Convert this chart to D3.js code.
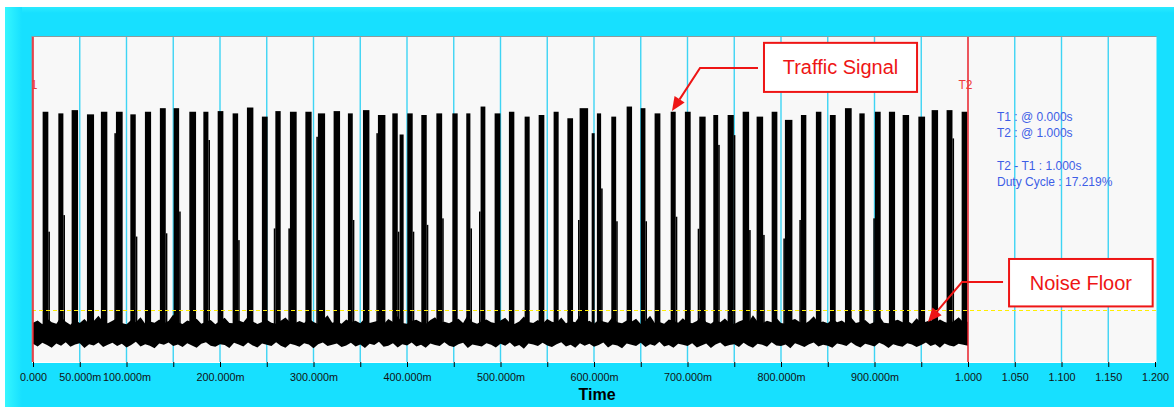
<!DOCTYPE html>
<html><head><meta charset="utf-8">
<script src="https://cdn.jsdelivr.net/npm/d3@7/dist/d3.min.js"></script>
<style>html,body{margin:0;padding:0;background:#fff;}svg{display:block;font-family:"Liberation Sans",Arial,sans-serif;}</style>
</head><body><svg id="c" width="1174" height="407"></svg>
<script>
// ---------- data ----------
const burstStart = [0.0107,0.0275,0.0417,0.0581,0.0730,0.0891,0.1045,0.1201,0.1361,0.1508,0.1676,0.1826,0.1979,0.2139,0.2292,0.2452,0.2596,0.2752,0.2917,0.3051,0.3219,
0.3372,0.3533,0.3693,0.3847,0.3925,0.4007,0.4157,0.4318,0.4489,0.4638,0.4791,0.4941,0.5094,0.5262,0.5412,0.5572,0.5719,0.5850,0.5979,0.6035,0.6189,0.6353,0.6503,0.6652,
0.6824,0.6976,0.7130,0.7280,0.7433,0.7594,0.7743,0.7904,0.8046,0.8217,0.8377,0.8527,0.8688,0.8842,0.9008,0.9158,0.9305,0.9473,0.9615,0.9775,0.9936];
const burstEnd = [0.0160,0.0321,0.0478,0.0649,0.0791,0.0955,0.1095,0.1259,0.1416,0.1559,0.1740,0.1872,0.2032,0.2190,0.2353,0.2506,0.2645,0.2816,0.2976,0.3120,0.3280,
0.3416,0.3594,0.3765,0.3897,0.3960,0.4057,0.4207,0.4372,0.4538,0.4674,0.4834,0.4995,0.5144,0.5308,0.5465,0.5618,0.5772,0.5933,0.6003,0.6072,0.6233,0.6403,0.6546,0.6706,
0.6870,0.7030,0.7190,0.7324,0.7491,0.7655,0.7805,0.7957,0.8118,0.8267,0.8428,0.8581,0.8752,0.8891,0.9062,0.9216,0.9366,0.9537,0.9676,0.9830,0.9989];
const burstPeak = [77.0,76.5,77.5,76.2,77.0,77.0,76.2,77.0,78.1,78.1,77.0,77.0,77.2,76.5,78.3,75.5,77.2,77.0,77.0,76.5,77.2,
76.5,77.5,76.0,76.5,70.0,76.5,76.0,76.5,76.5,76.5,78.6,76.5,77.0,75.5,76.0,77.0,75.0,78.1,70.4,76.5,75.5,78.6,78.1,76.5,
77.0,77.0,75.5,76.0,76.0,77.0,75.5,77.0,74.5,76.0,77.0,76.0,78.1,76.5,77.0,77.0,76.0,75.5,77.5,77.5,77.0];
const shoulderLevel = [40.1,45.2,0,0,0,70.4,38.6,0,39.6,46.3,0,68.3,0,37.5,0,0,41.1,41.1,0,69.3,0,
43.7,0,70.4,40.1,0,40.1,42.2,44.2,0,41.1,46.3,0,0,0,0,0,0,43.7,0,53.4,43.3,0,43.3,0,
44.7,0,41.0,66.8,69.8,40.6,39.1,0,38.0,43.7,0,0,0,0,44.2,0,0,0,0,68.8,0];
const shoulderSide = ["R","R","","","","L","R","","R","R","","R","","R","","","L","L","","L","",
"R","","L","R","","R","R","R","","R","L","","","","","","","L","","R","R","","R","",
"R","","L","R","R","R","R","","L","L","","","","","L","","","","","R",""];
const noiseStep = 0.005;
const noiseTop = [12.1,12.8,11.6,13.4,12.2,11.8,13.9,12.4,11.5,12.9,12.0,13.2,11.7,12.6,14.2,12.3,11.9,12.7,13.5,12.0,
11.6,12.9,12.2,13.8,11.8,12.5,12.1,13.1,11.9,12.6,14.6,12.2,11.7,12.8,12.3,13.3,11.8,12.4,12.9,11.6,
12.7,13.6,12.0,11.9,12.8,12.2,14.0,12.5,11.7,12.3,13.0,12.1,11.8,12.7,13.7,12.2,11.9,12.6,12.0,13.4,
12.3,11.7,12.9,14.4,12.1,12.5,11.8,13.1,12.2,12.7,11.9,13.5,12.0,12.4,12.8,11.6,13.2,12.3,14.1,12.0,
11.8,12.6,13.0,12.2,11.7,12.9,13.8,12.1,12.4,11.9,12.7,13.3,12.0,14.5,12.3,11.8,12.6,13.1,12.2,11.9,
12.8,13.6,12.1,11.7,12.5,14.0,12.3,12.0,12.9,11.8,13.2,12.4,12.1,13.7,11.9,12.6,12.2,14.3,12.0,12.7,
11.8,13.0,12.5,12.1,13.9,12.2,11.9,12.8,12.4,13.3,11.7,12.6,14.2,12.0,12.3,11.8,13.1,12.7,12.1,13.5,
12.2,11.9,12.6,14.0,12.3,11.8,12.9,12.2,13.4,12.0,11.7,12.5,13.0,12.1,14.4,12.4,11.9,12.7,12.2,13.6,
12.0,11.8,12.8,13.2,12.3,11.7,12.6,14.1,12.1,12.5,11.9,13.3,12.2,12.8,11.8,13.7,12.0,12.4,12.9,11.7,
12.3,14.2,12.1,11.9,12.6,13.0,12.2,12.7,11.8,13.5,12.0,12.4,12.9,12.1,13.1,12.3,11.9,12.6,13.8,12.2,12.4];
const noiseBottom = [5.6,4.8,5.9,5.2,4.4,5.7,5.0,6.1,4.7,5.4,5.8,4.3,5.5,5.1,6.0,4.6,5.3,5.9,4.9,5.6,
4.5,5.2,6.2,4.8,5.5,5.0,4.2,5.7,5.3,6.0,4.9,5.4,4.6,5.8,5.1,4.4,5.6,6.1,5.0,4.7,
5.5,5.2,4.3,5.9,5.4,4.8,6.0,5.1,4.5,5.7,5.3,4.9,6.1,5.0,4.4,5.6,5.2,4.7,5.8,5.4,
4.2,5.5,6.0,4.9,5.3,5.7,4.6,5.1,5.9,4.8,5.4,4.3,5.6,5.2,6.2,4.7,5.0,5.8,4.5,5.5,
5.1,6.0,4.8,5.3,4.4,5.7,5.2,4.9,6.1,5.0,4.6,5.5,5.9,4.3,5.4,5.1,4.8,5.8,5.3,4.5,
5.6,5.0,6.0,4.7,5.2,4.1,5.7,5.4,4.9,5.9,5.1,4.6,5.5,6.1,4.8,5.3,4.4,5.8,5.0,5.6,
4.7,5.2,6.0,4.5,5.4,5.1,4.2,5.7,5.3,4.9,5.9,4.6,5.5,5.0,6.2,4.8,5.2,4.4,5.6,5.3,
4.9,5.8,4.5,5.1,5.7,4.3,5.4,6.0,4.8,5.2,5.5,4.6,5.9,5.0,4.4,5.6,5.3,4.7,6.1,5.1,
4.9,5.4,4.2,5.8,5.2,4.6,5.5,6.0,4.8,5.3,5.0,4.4,5.7,5.4,4.9,6.1,5.1,4.5,5.6,5.2,
4.8,5.9,5.3,4.3,5.5,5.0,4.7,5.8,5.4,4.6,5.2,6.0,4.9,5.5,4.4,5.7,5.1,4.8,5.6,5.3,5.0];
const noiseCenter = 9;
const thresholdLevel = 16;
const gridTimes = [0.05,0.1,0.15,0.2,0.25,0.3,0.35,0.4,0.45,0.5,0.55,0.6,0.65,0.7,0.75,0.8,0.85,0.9,0.95,1.05,1.1,1.15];
const tickValues = [0,0.05,0.1,0.15,0.2,0.25,0.3,0.35,0.4,0.45,0.5,0.55,0.6,0.65,0.7,0.75,0.8,0.85,0.9,0.95,1.0,1.05,1.1,1.15,1.2];
const tickLabels = ["0.000","50.000m","100.000m","","200.000m","","300.000m","","400.000m","","500.000m","","600.000m","","700.000m","","800.000m","","900.000m","","1.000","1.050","1.100","1.150","1.200"];
const cursorTimes = [0, 1];
const cursorNames = ["T1", "T2"];
const infoLines = ["T1 : @ 0.000s", "T2 : @ 1.000s", "", "T2 - T1 : 1.000s", "Duty Cycle : 17.219%"];
const annotations = [
  {text:"Traffic Signal", tip:[0.6834,77.2], elbow:[0.7134,90.5], box:[0.7818,98.2,0.9455,83.1]},
  {text:"Noise Floor", tip:[0.9572,12.3], elbow:[0.9936,24.6], box:[1.0439,31.7,1.1975,17.1]}
];

// ---------- drawing ----------
const svg = d3.select("#c");
const x = d3.scaleLinear().domain([0, 1.2]).range([33, 1155]);
const y = d3.scaleLinear().domain([0, 100]).range([362, 37]);
const plotL = 32, plotR = 1156.5, plotT = 37, plotB = 362;

const defs = svg.append("defs");
const lg = defs.append("linearGradient").attr("id","lgrad").attr("x1","0").attr("x2","1").attr("y1","0").attr("y2","0");
lg.append("stop").attr("offset","0").attr("stop-color","#36f6ff");
lg.append("stop").attr("offset","1").attr("stop-color","#17e0ff");
const tg = defs.append("linearGradient").attr("id","tgrad").attr("x1","0").attr("x2","0").attr("y1","0").attr("y2","1");
tg.append("stop").attr("offset","0").attr("stop-color","#2aeaff");
tg.append("stop").attr("offset","1").attr("stop-color","#17e0ff");
defs.append("clipPath").attr("id","plotclip").append("rect")
  .attr("x", plotL).attr("y", plotT).attr("width", plotR - plotL).attr("height", plotB - plotT);

// frame
svg.append("rect").attr("x",5).attr("y",7).attr("width",1169).attr("height",400).attr("fill","#17e0ff");
svg.append("rect").attr("x",5).attr("y",7).attr("width",1169).attr("height",6).attr("fill","url(#tgrad)");
svg.append("rect").attr("x",5).attr("y",7).attr("width",17).attr("height",400).attr("fill","url(#lgrad)");

// plot area
svg.append("rect").attr("x",plotL).attr("y",plotT).attr("width",plotR-plotL).attr("height",plotB-plotT).attr("fill","#f8f8f8");
svg.append("path").attr("d",`M${plotL},${plotB}V${plotT-0.5}H${plotR}`).attr("fill","none").attr("stroke","#8f9a9c").attr("stroke-width",1.2);
svg.append("line").attr("x1",plotL).attr("x2",plotR).attr("y1",plotB+0.5).attr("y2",plotB+0.5).attr("stroke","#ffffff").attr("stroke-width",1);

const plot = svg.append("g").attr("clip-path","url(#plotclip)");

// grid
plot.selectAll("line.grid").data(gridTimes).join("line").attr("class","grid")
  .attr("x1",d=>x(d)).attr("x2",d=>x(d)).attr("y1",plotT).attr("y2",plotB)
  .attr("stroke","#3ed4f4").attr("stroke-width",1.4);

// noise band (envelope of the dense noise oscillation)
const noiseArea = d3.area()
  .x((d,i)=>x(i*noiseStep))
  .y0((d,i)=>y(noiseBottom[i]))
  .y1((d,i)=>y(noiseTop[i]));
plot.append("path").datum(noiseTop).attr("d", noiseArea).attr("fill","#000");

// bursts
const sw = 0.0017, pad = 0.0004;
const bursts = burstStart.map((s,i)=>({s, e:burstEnd[i], p:burstPeak[i], sl:shoulderLevel[i], side:shoulderSide[i]}));
const bg = plot.append("g");
bursts.forEach(b=>{
  const ms = b.s - pad, me = b.e + pad;
  if (b.sl > 0) {
    const ss = b.side === "R" ? me : ms - sw;
    bg.append("rect").attr("x", x(ss)).attr("width", x(ss+sw)-x(ss))
      .attr("y", y(b.sl)).attr("height", y(noiseCenter)-y(b.sl)).attr("fill","#000");
  }
  bg.append("rect").attr("x", x(ms)).attr("width", x(me)-x(ms))
    .attr("y", y(b.p)).attr("height", y(noiseCenter)-y(b.p)).attr("fill","#000");
});

// threshold (noise floor level)
plot.append("line").attr("x1",plotL).attr("x2",plotR).attr("y1",y(thresholdLevel)+0.5).attr("y2",y(thresholdLevel)+0.5)
  .attr("stroke","#ffee00").attr("stroke-width",1).attr("stroke-dasharray","4,3");

// cursors
plot.selectAll("line.cur").data(cursorTimes).join("line").attr("class","cur")
  .attr("x1",d=>x(d)).attr("x2",d=>x(d)).attr("y1",plotT).attr("y2",plotB)
  .attr("stroke","#e8202a").attr("stroke-width",1.5);
plot.selectAll("text.cur").data(cursorTimes).join("text").attr("class","cur")
  .attr("x",d=>x(d)-2.5).attr("y",89).attr("text-anchor","middle")
  .attr("font-size",12).attr("fill","#f03a3a").text((d,i)=>cursorNames[i]);

// info text
svg.append("g").selectAll("text").data(infoLines).join("text")
  .attr("x", x(1) + 29).attr("y",(d,i)=>121 + i*16.2)
  .attr("font-size",12).attr("fill","#3d5ee6").text(d=>d);

// axis
const axis = d3.axisBottom(x).tickValues(tickValues).tickSize(5).tickPadding(6)
  .tickFormat((d,i)=>tickLabels[i]);
const ax = svg.append("g").attr("transform",`translate(0,${plotB})`).call(axis);
ax.select(".domain").remove();
ax.selectAll(".tick line").attr("stroke","#000").attr("stroke-width",1);
ax.selectAll(".tick text").attr("fill","#111").attr("font-size",10.8).attr("font-family",'"Liberation Sans",Arial,sans-serif');

svg.append("text").attr("x",(x(0)+x(1.2))/2+3).attr("y",400).attr("text-anchor","middle")
  .attr("font-size",16).attr("font-weight","bold").attr("fill","#000").text("Time");

// annotations
const red = "#ee1515";
annotations.forEach(a=>{
  const [bx0,by0,bx1,by1] = a.box;
  const X0=x(bx0), Y0=y(by0), X1=x(bx1), Y1=y(by1);
  const ex=x(a.elbow[0]), ey=y(a.elbow[1]);
  const tx=x(a.tip[0]), ty=y(a.tip[1]);
  const ang = Math.atan2(ty-ey, tx-ex);
  const hl = 14, hw = 6;
  const bxp = tx - hl*Math.cos(ang), byp = ty - hl*Math.sin(ang);
  svg.append("path").attr("d",`M${X0-6},${ey}H${ex}L${bxp},${byp}`)
    .attr("fill","none").attr("stroke",red).attr("stroke-width",2);
  const px = -Math.sin(ang), py = Math.cos(ang);
  svg.append("path").attr("d",`M${tx},${ty}L${bxp+hw*px},${byp+hw*py}L${bxp-hw*px},${byp-hw*py}Z`).attr("fill",red);
  svg.append("rect").attr("x",X0).attr("y",Y0).attr("width",X1-X0).attr("height",Y1-Y0)
    .attr("fill","#fff").attr("stroke",red).attr("stroke-width",2);
  svg.append("text").attr("x",(X0+X1)/2).attr("y",(Y0+Y1)/2+7).attr("text-anchor","middle")
    .attr("font-size",20).attr("fill",red).text(a.text);
});
</script></body></html>
